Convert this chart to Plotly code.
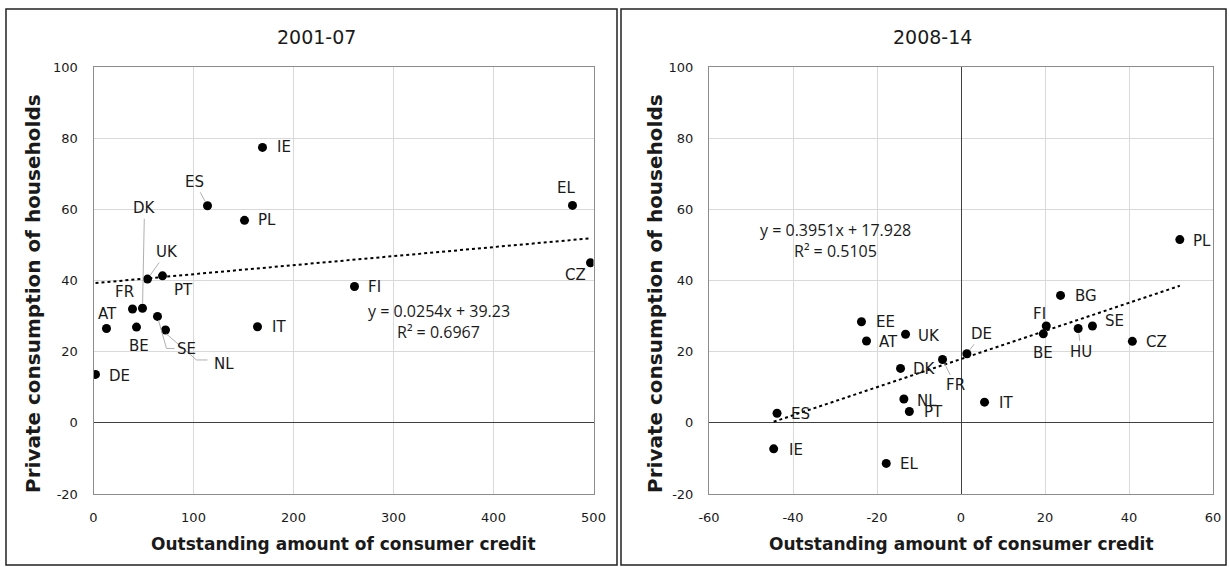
import plotly.graph_objects as go

# ---------------- data ----------------
left_countries = ["IE", "ES", "PL", "DK", "UK", "PT", "FR", "AT", "BE", "SE", "NL", "IT", "DE", "FI", "EL", "CZ"]
left_x = [169, 114, 151, 49, 54, 69, 39, 13, 43, 64, 72, 164, 2, 261, 479, 497]
left_y = [77.4, 61.0, 56.9, 32.2, 40.4, 41.3, 32.0, 26.5, 26.9, 29.9, 26.1, 27.0, 13.6, 38.3, 61.1, 45.0]

right_countries = ["EE", "AT", "UK", "DK", "NL", "PT", "ES", "IE", "EL", "IT", "DE", "FR", "FI", "BE", "BG", "HU", "SE", "CZ", "PL"]
right_x = [-23.7, -22.5, -13.2, -14.4, -13.6, -12.3, -43.8, -44.6, -17.8, 5.6, 1.4, -4.4, 20.3, 19.6, 23.7, 27.9, 31.3, 40.8, 52.1]
right_y = [28.4, 23.0, 24.9, 15.3, 6.7, 3.2, 2.7, -7.3, -11.4, 5.8, 19.4, 17.8, 27.2, 25.0, 35.8, 26.5, 27.2, 22.9, 51.5]

left_slope, left_intercept, left_r2 = 0.0254, 39.23, 0.6967
right_slope, right_intercept, right_r2 = 0.3951, 17.928, 0.5105

panel_titles = ["2001-07", "2008-14"]
x_title = "Outstanding amount of consumer credit"
y_title = "Private consumption of households"
left_xticks = [0, 100, 200, 300, 400, 500]
right_xticks = [-60, -40, -20, 0, 20, 40, 60]
yticks = [-20, 0, 20, 40, 60, 80, 100]

# ---------------- label placement (pixel offsets: dx, dy-down, leader style) ----------------
left_label_pos = {
    "IE": (21, 0, None), "ES": (-13, -24, "line"), "PL": (22, 0, None), "DK": (2, -100, "line"),
    "UK": (19, -27, "line"), "PT": (21, 14, None), "FR": (-8, -17, None), "AT": (1, -15, None),
    "BE": (2, 19, None), "SE": (29, 33, "elbow"), "NL": (58, 34, "elbow"), "IT": (21, 0, None),
    "DE": (24, 2, None), "FI": (20, 0, None), "EL": (-7, -17, None), "CZ": (-15, 12, None),
}
# elbow leaders: (corner dx, corner dy-down, end dx) in pixels from the dot
left_elbows = {"SE": (9, 32, 17), "NL": (31, 30, 42)}
right_label_pos = {
    "EE": (24, 0, None), "AT": (22, 1, None), "UK": (23, 2, None), "DK": (24, 1, None),
    "NL": (23, 2, None), "PT": (24, 1, None), "ES": (23, 1, None), "IE": (22, 1, None),
    "EL": (23, 1, None), "IT": (21, 1, None), "DE": (15, -20, "line"), "FR": (13, 26, "line"),
    "FI": (-7, -12, None), "BE": (0, 19, None), "BG": (25, 1, None), "HU": (3, 23, "line"),
    "SE": (22, -5, None), "CZ": (24, 1, None), "PL": (22, 1, None),
}

W, H = 1229, 567
FONT = "DejaVu Sans"
GRID = "#d9d9d9"
BORDER = "#8c8c8c"
ZERO = "#404040"
LEADER = "#b0b0b0"

fig = go.Figure()

def px_x(p):
    return p / W

def px_y(p):
    return 1 - p / H

top, bottom = 67, 494
left_dom = [px_x(93.5), px_x(593.5)]
right_dom = [px_x(709), px_x(1213)]
ydom = [px_y(bottom), px_y(top)]

# scatter points
fig.add_trace(go.Scatter(x=left_x, y=left_y, mode="markers",
                         marker=dict(color="black", size=9), xaxis="x", yaxis="y",
                         showlegend=False, hoverinfo="text", text=left_countries))
fig.add_trace(go.Scatter(x=right_x, y=right_y, mode="markers",
                         marker=dict(color="black", size=9), xaxis="x2", yaxis="y2",
                         showlegend=False, hoverinfo="text", text=right_countries))

# trend lines
lx = [min(left_x), max(left_x)]
fig.add_trace(go.Scatter(x=lx, y=[left_slope * v + left_intercept for v in lx], mode="lines",
                         line=dict(color="black", width=2, dash="dot"), xaxis="x", yaxis="y",
                         showlegend=False, hoverinfo="skip"))
rx = [min(right_x), max(right_x)]
fig.add_trace(go.Scatter(x=rx, y=[right_slope * v + right_intercept for v in rx], mode="lines",
                         line=dict(color="black", width=2, dash="dot"), xaxis="x2", yaxis="y2",
                         showlegend=False, hoverinfo="skip"))

annotations = []
shapes = []

def add_labels(countries, xs, ys, pos, xref, yref, elbows=None):
    for c, xv, yv in zip(countries, xs, ys):
        dx, dy, leader = pos[c]
        annotations.append(dict(
            x=xv, y=yv, xref=xref, yref=yref, text=c, showarrow=True,
            ax=dx, ay=dy, arrowhead=0, arrowwidth=1, standoff=5,
            arrowcolor=LEADER if leader == "line" else "rgba(0,0,0,0)",
            font=dict(family=FONT, size=15, color="#1a1a1a"),
            xanchor="center", yanchor="middle",
        ))
        if leader == "elbow":
            cx, cy, ex = elbows[c]
            for (a0, b0, a1, b1) in [(1, -4, cx, -cy), (cx, -cy, ex, -cy)]:
                shapes.append(dict(type="line", xref=xref, yref=yref,
                                   xsizemode="pixel", ysizemode="pixel",
                                   xanchor=xv, yanchor=yv, x0=a0, y0=b0, x1=a1, y1=b1,
                                   line=dict(color=LEADER, width=1)))

add_labels(left_countries, left_x, left_y, left_label_pos, "x", "y", left_elbows)
add_labels(right_countries, right_x, right_y, right_label_pos, "x2", "y2")

eq_font = dict(family="Open Sans", size=16, color="#1a1a1a")
C = dict(showarrow=False, xanchor="center", yanchor="middle")
annotations += [
    dict(x=345, y=31.5, xref="x", yref="y", font=eq_font,
         text=f"y = {left_slope}x + {left_intercept}", **C),
    dict(x=345, y=25.6, xref="x", yref="y", font=eq_font,
         text=f"R² = {left_r2}", **C),
    dict(x=-30, y=54.2, xref="x2", yref="y2", font=eq_font,
         text=f"y = {right_slope}x + {right_intercept}", **C),
    dict(x=-30, y=48.3, xref="x2", yref="y2", font=eq_font,
         text=f"R² = {right_r2}", **C),
]

# titles
title_font = dict(family=FONT, size=19, color="#1a1a1a")
x_title_font = dict(family=FONT, size=17, color="#1a1a1a")
y_title_font = dict(family=FONT, size=20, color="#1a1a1a")
ymid = px_y(294)
annotations += [
    dict(x=px_x(316), y=px_y(37), xref="paper", yref="paper", text=panel_titles[0],
         font=title_font, **C),
    dict(x=px_x(932), y=px_y(37), xref="paper", yref="paper", text=panel_titles[1],
         font=title_font, **C),
    dict(x=(left_dom[0] + left_dom[1]) / 2, y=px_y(544), xref="paper", yref="paper",
         text=f"<b>{x_title}</b>", font=x_title_font, **C),
    dict(x=(right_dom[0] + right_dom[1]) / 2, y=px_y(544), xref="paper", yref="paper",
         text=f"<b>{x_title}</b>", font=x_title_font, **C),
    dict(x=px_x(33), y=ymid, xref="paper", yref="paper",
         text=f"<b>{y_title}</b>", textangle=-90, font=y_title_font, **C),
    dict(x=px_x(655), y=ymid, xref="paper", yref="paper",
         text=f"<b>{y_title}</b>", textangle=-90, font=y_title_font, **C),
]

tick_font = dict(family=FONT, size=13, color="#1a1a1a")
common_axis = dict(showgrid=True, gridcolor=GRID, gridwidth=1, showline=True, linecolor=BORDER,
                   linewidth=1, mirror=True, ticks="", tickfont=tick_font, zeroline=True,
                   zerolinecolor=ZERO, zerolinewidth=1, fixedrange=True, automargin=False)

shapes += [
    dict(type="rect", xref="paper", yref="paper", x0=px_x(6), x1=px_x(617), y0=px_y(565),
         y1=px_y(9), line=dict(color="#222222", width=1.5)),
    dict(type="rect", xref="paper", yref="paper", x0=px_x(621), x1=px_x(1226), y0=px_y(565),
         y1=px_y(9), line=dict(color="#222222", width=1.5)),
]

fig.update_layout(
    width=W, height=H, margin=dict(l=0, r=0, t=0, b=0, pad=0), autosize=False,
    paper_bgcolor="white", plot_bgcolor="white",
    xaxis=dict(domain=left_dom, range=[0, 500], tickvals=left_xticks,
               ticktext=[str(v) for v in left_xticks], anchor="y",
               ticklabelstandoff=11, **common_axis),
    yaxis=dict(domain=ydom, range=[-20, 100], tickvals=yticks,
               ticktext=[str(v) for v in yticks], anchor="x",
               ticklabelstandoff=12, **common_axis),
    xaxis2=dict(domain=right_dom, range=[-60, 60], tickvals=right_xticks,
                ticktext=[str(v) for v in right_xticks], anchor="y2",
                ticklabelstandoff=11, **common_axis),
    yaxis2=dict(domain=ydom, range=[-20, 100], tickvals=yticks,
                ticktext=[str(v) for v in yticks], anchor="x2",
                ticklabelstandoff=12, **common_axis),
    annotations=annotations,
    shapes=shapes,
)

fig.write_html("out.html", config={"displayModeBar": False},
               post_script="document.body.style.margin='0px';")
